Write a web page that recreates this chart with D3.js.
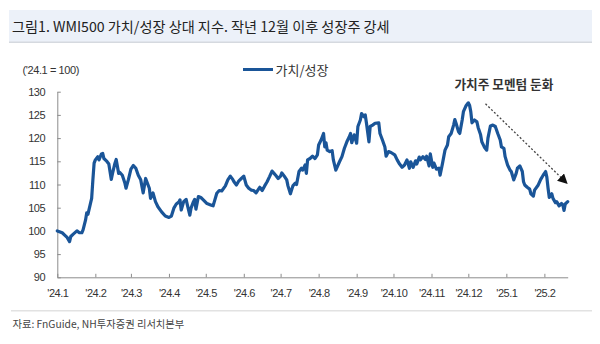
<!DOCTYPE html>
<html><head><meta charset="utf-8">
<script src="https://cdn.jsdelivr.net/npm/d3@7"></script>
<style>html,body{margin:0;padding:0;background:#fff;} svg{display:block;}</style>
</head><body><svg id="c" width="600" height="344"></svg>
<script>
const title = "그림1. WMI500 가치/성장 상대 지수. 작년 12월 이후 성장주 강세";
const source = "자료: FnGuide, NH투자증권 리서치본부";
const unitLabel = "('24.1 = 100)";
const seriesName = "가치/성장";
const annotationText = "가치주 모멘텀 둔화";

const dates = [
"2024-01-01","2024-01-05","2024-01-07","2024-01-09","2024-01-11","2024-01-12","2024-01-14","2024-01-17","2024-01-19","2024-01-21",
"2024-01-22","2024-01-24","2024-01-25","2024-01-26","2024-01-28","2024-01-29","2024-01-30","2024-01-31","2024-02-01","2024-02-03",
"2024-02-04","2024-02-06","2024-02-07","2024-02-08","2024-02-10","2024-02-12","2024-02-14","2024-02-15","2024-02-17","2024-02-18",
"2024-02-20","2024-02-21","2024-02-23","2024-02-25","2024-02-26","2024-02-28","2024-03-01","2024-03-03","2024-03-05","2024-03-07",
"2024-03-09","2024-03-11","2024-03-13","2024-03-14","2024-03-16","2024-03-17","2024-03-19","2024-03-21","2024-03-23","2024-03-26",
"2024-03-29","2024-04-01","2024-04-03","2024-04-05","2024-04-07","2024-04-09","2024-04-10","2024-04-11","2024-04-13","2024-04-15",
"2024-04-16","2024-04-18","2024-04-19","2024-04-21","2024-04-22","2024-04-23","2024-04-25","2024-04-27","2024-04-29","2024-05-02",
"2024-05-05","2024-05-07","2024-05-08","2024-05-10","2024-05-12","2024-05-14","2024-05-17","2024-05-19","2024-05-21","2024-05-23",
"2024-05-24","2024-05-26","2024-05-28","2024-05-30","2024-06-01","2024-06-03","2024-06-05","2024-06-07","2024-06-09","2024-06-11",
"2024-06-13","2024-06-14","2024-06-16","2024-06-18","2024-06-20","2024-06-22","2024-06-24","2024-06-26","2024-06-27","2024-06-29",
"2024-07-01","2024-07-02","2024-07-04","2024-07-06","2024-07-07","2024-07-09","2024-07-11","2024-07-13","2024-07-14","2024-07-16",
"2024-07-18","2024-07-19","2024-07-21","2024-07-22","2024-07-23","2024-07-25","2024-07-27","2024-07-29","2024-07-31","2024-08-01",
"2024-08-03","2024-08-05","2024-08-06","2024-08-07","2024-08-08","2024-08-10","2024-08-12","2024-08-13","2024-08-15","2024-08-18",
"2024-08-20","2024-08-22","2024-08-24","2024-08-26","2024-08-27","2024-08-28","2024-08-30","2024-09-01","2024-09-02","2024-09-04",
"2024-09-05","2024-09-07","2024-09-08","2024-09-09","2024-09-11","2024-09-12","2024-09-14","2024-09-16","2024-09-19","2024-09-20",
"2024-09-22","2024-09-24","2024-09-25","2024-09-27","2024-09-29","2024-10-02","2024-10-04","2024-10-06","2024-10-08","2024-10-10",
"2024-10-12","2024-10-14","2024-10-15","2024-10-17","2024-10-19","2024-10-20","2024-10-22","2024-10-23","2024-10-25","2024-10-27",
"2024-10-28","2024-10-30","2024-10-31","2024-11-02","2024-11-03","2024-11-05","2024-11-07","2024-11-08","2024-11-10","2024-11-12",
"2024-11-14","2024-11-15","2024-11-17","2024-11-19","2024-11-20","2024-11-21","2024-11-23","2024-11-24","2024-11-26","2024-11-27",
"2024-11-29","2024-12-01","2024-12-02","2024-12-03","2024-12-04","2024-12-06","2024-12-08","2024-12-09","2024-12-11","2024-12-12",
"2024-12-14","2024-12-16","2024-12-17","2024-12-19","2024-12-21","2024-12-23","2024-12-25","2024-12-27","2024-12-28","2024-12-30",
"2024-12-31","2025-01-02","2025-01-04","2025-01-05","2025-01-07","2025-01-09","2025-01-10","2025-01-12","2025-01-14","2025-01-15",
"2025-01-16","2025-01-18","2025-01-20","2025-01-21","2025-01-23","2025-01-24","2025-01-27","2025-01-29","2025-01-31","2025-02-02",
"2025-02-03","2025-02-04","2025-02-05","2025-02-07","2025-02-08","2025-02-10","2025-02-11","2025-02-13","2025-02-15","2025-02-16",
"2025-02-17","2025-02-18","2025-02-20"
];
const values = [
100.0,99.6,99.1,98.6,97.7,98.8,99.3,100.0,99.6,99.6,
100.2,102.3,103.9,103.6,105.9,107.0,111.0,114.6,115.3,116.0,
115.3,116.6,116.7,115.6,115.1,114.4,111.1,112.4,114.6,115.4,
112.4,112.6,112.0,110.4,109.2,111.1,113.3,114.1,113.5,112.0,
111.0,108.2,111.3,110.6,109.2,107.0,108.2,106.3,105.2,104.1,
103.2,102.9,103.2,104.9,105.8,106.2,106.7,104.5,106.3,106.8,
105.6,103.4,104.9,106.3,106.8,104.7,107.4,107.2,106.7,105.9,
105.6,105.4,106.3,108.1,108.7,108.6,109.7,111.0,111.8,111.1,
110.6,109.9,110.8,111.3,111.8,109.9,109.2,108.8,108.7,108.2,
109.0,109.4,108.7,109.7,110.6,111.7,112.9,112.3,112.0,111.3,
111.8,112.5,111.8,111.0,109.7,108.0,109.7,110.3,110.0,112.8,
113.5,113.1,114.2,112.4,115.3,115.6,116.1,115.6,116.4,118.5,
119.6,121.0,118.1,119.0,117.4,117.1,117.3,115.3,113.1,114.9,
116.0,117.8,119.2,120.3,121.0,119.0,120.7,118.9,122.5,123.9,
125.3,124.6,125.0,123.2,119.2,122.5,122.8,123.2,123.3,121.0,
119.6,118.1,116.1,117.1,116.9,116.4,115.3,114.4,113.7,114.2,
115.3,113.5,114.9,113.7,115.1,114.4,115.9,115.3,116.0,115.4,
116.1,114.0,116.6,113.7,114.6,113.3,113.5,112.0,114.6,117.4,
118.5,120.3,121.0,122.8,124.0,123.2,121.4,121.0,123.9,125.7,
126.9,127.6,127.1,125.7,123.3,123.9,123.5,122.3,120.7,119.2,
118.1,117.4,120.0,122.6,122.8,122.5,121.0,119.6,118.1,117.8,
116.0,114.2,113.1,112.8,111.0,112.4,113.5,114.0,112.8,110.6,
109.9,109.4,109.0,108.0,107.5,108.8,109.9,111.1,112.0,112.8,
111.6,109.2,107.2,108.0,107.0,106.1,106.3,105.4,105.9,105.6,
104.4,105.8,106.3
];
const yTicks = [90,95,100,105,110,115,120,125,130];
const xTickDates = ["2024-01-01","2024-02-01","2024-03-01","2024-04-01","2024-05-01","2024-06-01","2024-07-01",
"2024-08-01","2024-09-01","2024-10-01","2024-11-01","2024-12-01","2025-01-01","2025-02-01"];
const xTickLabels = ["'24.1","'24.2","'24.3","'24.4","'24.5","'24.6","'24.7","'24.8","'24.9","'24.10","'24.11","'24.12","'25.1","'25.2"];
const xDomain = ["2024-01-01","2025-02-20"];
const arrowFrom = ["2024-12-15",127.4];
const arrowTo = ["2025-02-20",110.1];
const annotationAt = ["2024-12-30",131.4];

const parse = d3.timeParse("%Y-%m-%d");
const svg = d3.select("#c");
const blue = "#1a5598";
const numFont = "'Liberation Sans', Arial, sans-serif";
const krFont = "'Noto Sans CJK KR', 'Noto Sans', sans-serif";

function fit(sel, w){
  const l = sel.node().getComputedTextLength();
  const fs = parseFloat(sel.attr("font-size"));
  if (l > 0) sel.attr("font-size", (fs * w / l).toFixed(2));
}

// title band
svg.append("rect").attr("x",9).attr("y",10).attr("width",583).attr("height",32).attr("fill","#ecf1f9");
svg.append("rect").attr("x",9).attr("y",41.5).attr("width",583).attr("height",1.5).attr("fill","#d5d9df");
const t = svg.append("text").attr("x",12).attr("y",32).attr("font-family",krFont).attr("font-size",14.5)
  .attr("fill","#222").text(title);
fit(t, 378);

const x = d3.scaleTime().domain(xDomain.map(parse)).range([57.3, 567.7]);
const y = d3.scaleLinear().domain([90,130]).range([277.3, 91.7]);

// axes
const axisColor = "#8c8c8c";
const gx = svg.append("g").attr("transform","translate(0,277.3)")
  .call(d3.axisBottom(x).tickValues(xTickDates.map(parse)).tickSize(0).tickPadding(0).tickFormat((d,i)=>xTickLabels[i]));
gx.select(".domain").attr("stroke",axisColor).attr("stroke-width",1);
gx.selectAll(".tick line").remove();
gx.selectAll(".tick").append("line").attr("y1",0).attr("y2",-3.5).attr("stroke",axisColor);
gx.selectAll(".tick text").attr("y",19.3).attr("dy",0).attr("font-family",numFont).attr("font-size",11)
  .attr("letter-spacing","-0.5px").attr("fill","#333");

const gy = svg.append("g").attr("transform","translate(57.3,0)")
  .call(d3.axisLeft(y).tickValues(yTicks).tickSize(0).tickPadding(12).tickFormat(d3.format("d")));
gy.select(".domain").attr("stroke",axisColor).attr("stroke-width",1);
gy.selectAll(".tick line").remove();
gy.selectAll(".tick").append("line").attr("x1",0).attr("x2",3.5).attr("stroke",axisColor);
gy.selectAll(".tick text").attr("font-family",numFont).attr("font-size",11).attr("letter-spacing","-0.4px").attr("fill","#333");

svg.append("text").attr("x",22.5).attr("y",74).attr("font-family",numFont).attr("font-size",11)
  .attr("letter-spacing","-0.4px").attr("fill","#333").text(unitLabel);

// line
const data = dates.map((d,i)=>({date:parse(d), v:values[i]}));
svg.append("path").datum(data).attr("fill","none").attr("stroke",blue).attr("stroke-width",3.2)
  .attr("stroke-linejoin","round").attr("stroke-linecap","round")
  .attr("d", d3.line().x(d=>x(d.date)).y(d=>y(d.v)));

// legend
svg.append("line").attr("x1",243).attr("x2",273).attr("y1",69.5).attr("y2",69.5).attr("stroke",blue).attr("stroke-width",3);
const lt = svg.append("text").attr("x",275.5).attr("y",74.5).attr("font-family",krFont).attr("font-size",12)
  .attr("fill","#333").text(seriesName);
fit(lt, 53);

// annotation
const defs = svg.append("defs");
defs.append("marker").attr("id","ah").attr("viewBox","0 0 10 10").attr("refX",10).attr("refY",5)
  .attr("markerWidth",10).attr("markerHeight",10).attr("markerUnits","userSpaceOnUse").attr("orient","auto")
  .append("path").attr("d","M0,0 L10,5 L0,10 Z").attr("fill","#111");
const ax1 = x(parse(arrowFrom[0])), ay1 = y(arrowFrom[1]);
const ax2 = x(parse(arrowTo[0])), ay2 = y(arrowTo[1]);
const ang = Math.atan2(ay2-ay1, ax2-ax1);
svg.append("line").attr("x1",ax1).attr("y1",ay1).attr("x2",ax2-9*Math.cos(ang)).attr("y2",ay2-9*Math.sin(ang))
  .attr("stroke","#444").attr("stroke-width",1.3).attr("stroke-dasharray","2,2");
svg.append("line").attr("x1",ax2-10*Math.cos(ang)).attr("y1",ay2-10*Math.sin(ang)).attr("x2",ax2).attr("y2",ay2)
  .attr("stroke","none").attr("marker-end","url(#ah)");
const at = svg.append("text").attr("x",x(parse(annotationAt[0]))).attr("y",y(annotationAt[1])+4)
  .attr("text-anchor","middle").attr("font-family",krFont).attr("font-weight",700).attr("font-size",12.5)
  .attr("fill","#333").text(annotationText);
fit(at, 99);

// footer
svg.append("rect").attr("x",11).attr("y",310).attr("width",581).attr("height",1.5).attr("fill","#e2e2e2");
const ft = svg.append("text").attr("x",12.5).attr("y",328).attr("font-family",krFont).attr("font-size",11)
  .attr("fill","#444").text(source);
fit(ft, 172);
</script></body></html>
